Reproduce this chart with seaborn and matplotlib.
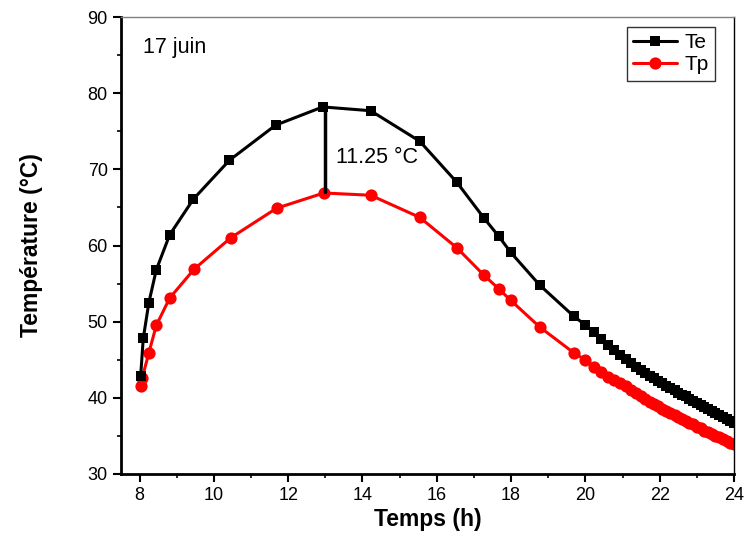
import pandas as pd
import matplotlib
matplotlib.use('Agg')
import matplotlib.pyplot as plt
import seaborn as sns
from matplotlib.ticker import MultipleLocator

# données (17 juin)
t_te = [8.03, 8.1, 8.25, 8.45, 8.81, 9.45, 10.42, 11.66, 12.93, 14.22, 15.54, 16.54,
        17.27, 17.67, 17.99, 18.77, 19.69, 19.99, 20.23, 20.43, 20.61, 20.78, 20.94,
        21.09, 21.23, 21.36, 21.49, 21.61, 21.73, 21.85, 21.96, 22.07, 22.18, 22.29,
        22.4, 22.5, 22.6, 22.7, 22.8, 22.9, 23.0, 23.1, 23.2, 23.3, 23.4, 23.5,
        23.6, 23.7, 23.8, 23.9, 24.0]
te = [42.9, 47.8, 52.5, 56.8, 61.4, 66.1, 71.2, 75.8, 78.2, 77.7, 73.7, 68.3,
      63.6, 61.2, 59.1, 54.8, 50.7, 49.6, 48.6, 47.7, 46.9, 46.3, 45.6,
      45.1, 44.6, 44.1, 43.7, 43.3, 42.9, 42.6, 42.2, 41.9, 41.6, 41.3,
      41.0, 40.7, 40.4, 40.2, 39.9, 39.6, 39.3, 39.0, 38.8, 38.5, 38.3, 38.0,
      37.7, 37.5, 37.2, 37.0, 36.7]

t_tp = [8.03, 8.07, 8.25, 8.45, 8.81, 9.47, 10.45, 11.69, 12.96, 14.22, 15.54, 16.54,
        17.27, 17.67, 17.99, 18.77, 19.69, 19.99, 20.23, 20.43, 20.61, 20.78, 20.94,
        21.09, 21.23, 21.36, 21.49, 21.61, 21.73, 21.85, 21.96, 22.07, 22.18, 22.29,
        22.4, 22.5, 22.6, 22.7, 22.8, 22.9, 23.0, 23.1, 23.2, 23.3, 23.4, 23.5,
        23.6, 23.7, 23.8, 23.9, 24.0]
tp = [41.5, 42.6, 45.9, 49.5, 53.1, 56.9, 61.0, 64.9, 66.9, 66.6, 63.7, 59.7,
      56.1, 54.3, 52.8, 49.3, 45.9, 45.0, 44.1, 43.4, 42.8, 42.3, 41.9,
      41.5, 41.0, 40.6, 40.2, 39.9, 39.5, 39.2, 38.9, 38.6, 38.3, 38.0,
      37.7, 37.5, 37.2, 37.0, 36.7, 36.5, 36.2, 36.0, 35.7, 35.5, 35.3, 35.0,
      34.8, 34.6, 34.3, 34.1, 33.9]

# écart au maximum
t_ecart = 13.0
ecart_bas, ecart_haut = 67.0, 78.2
ecart_label = '11.25 °C'

sns.set_style('ticks')
plt.rcParams['font.family'] = ['Liberation Sans', 'DejaVu Sans']
plt.rcParams['text.color'] = 'black'
plt.rcParams['axes.labelcolor'] = 'black'
plt.rcParams['xtick.color'] = 'black'
plt.rcParams['ytick.color'] = 'black'

fig = plt.figure(figsize=(7.44, 5.33), dpi=100)
ax = fig.add_axes([0.1626, 0.1107, 0.824, 0.8573])

df_te = pd.DataFrame({'t': t_te, 'T': te})
df_tp = pd.DataFrame({'t': t_tp, 'T': tp})

sns.lineplot(data=df_te, x='t', y='T', ax=ax, color='black', linewidth=2.2,
             marker='s', markersize=7.2, markeredgewidth=0, sort=False,
             estimator=None, label='Te', zorder=3)
sns.lineplot(data=df_tp, x='t', y='T', ax=ax, color='red', linewidth=2.2,
             marker='o', markersize=8.8, markeredgewidth=0, sort=False,
             estimator=None, label='Tp', zorder=2)

ax.plot([t_ecart, t_ecart], [ecart_bas, ecart_haut], color='black', linewidth=2.5, zorder=4)
ax.text(13.3, 71.5, ecart_label, fontsize=15.5, va='center', ha='left')
ax.text(8.1, 86, '17 juin', fontsize=15.5, va='center', ha='left')

ax.set_xlim(7.5, 24)
ax.set_ylim(30, 90)
ax.xaxis.set_major_locator(MultipleLocator(2))
ax.xaxis.set_minor_locator(MultipleLocator(1))
ax.yaxis.set_major_locator(MultipleLocator(10))
ax.yaxis.set_minor_locator(MultipleLocator(5))
ax.tick_params(which='major', direction='out', length=6, width=1.5, labelsize=13, color='black')
ax.tick_params(which='minor', direction='out', length=3, width=1.2, color='black')

for s in ['left', 'bottom']:
    ax.spines[s].set_linewidth(2)
    ax.spines[s].set_color('black')
ax.spines['right'].set_linewidth(1)
ax.spines['right'].set_color('black')
ax.spines['top'].set_linewidth(1)
ax.spines['top'].set_color('gray')

ax.set_xlabel('Temps (h)', fontsize=16.5, fontweight='bold')
ax.set_ylabel('Température (°C)', fontsize=16.5, fontweight='bold')
ax.xaxis.set_label_coords(0.5, -0.075)
ax.yaxis.set_label_coords(-0.127, 0.5)

leg = ax.legend(loc='upper right', bbox_to_anchor=(0.969, 0.978), fontsize=15,
                frameon=True, fancybox=False, edgecolor='black', handlelength=2.1,
                handletextpad=0.35, borderpad=0.3, labelspacing=0.15, borderaxespad=0)
leg.get_frame().set_linewidth(1)

fig.savefig('out.png', dpi=100)
